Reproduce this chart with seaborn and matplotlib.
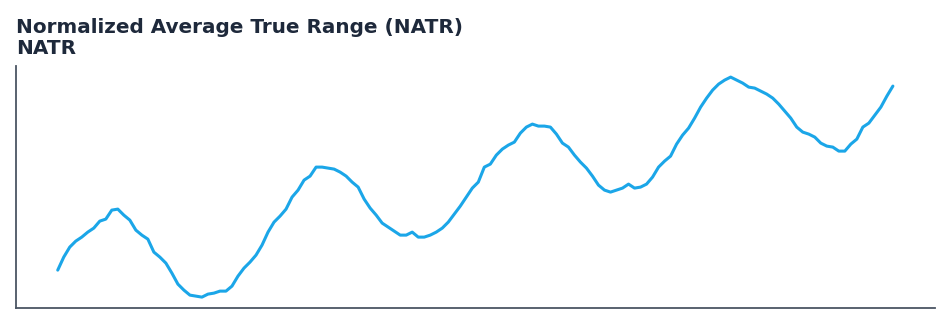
import numpy as np
import pandas as pd
import seaborn as sns
import matplotlib.pyplot as plt

# NATR values (arbitrary units, no axis labels shown)
natr_first = [
    0.80, 1.06, 1.26, 1.38, 1.46, 1.56, 1.64, 1.78, 1.82, 2.00, 2.02,
    1.90, 1.80, 1.60, 1.50, 1.42, 1.16, 1.06, 0.94, 0.74, 0.52,
    0.40, 0.30, 0.28, 0.26, 0.32, 0.34, 0.38, 0.38, 0.48, 0.68,
    0.84, 0.96, 1.10, 1.30, 1.56, 1.76, 1.88, 2.02, 2.26, 2.40,
    2.60, 2.68, 2.86, 2.86, 2.84, 2.82, 2.76, 2.68, 2.56, 2.46,
    2.22, 2.04, 1.90, 1.74, 1.66, 1.58, 1.50, 1.50, 1.56, 1.46,
    1.46, 1.50, 1.56, 1.64, 1.76, 1.92, 2.08, 2.26, 2.44,
]
natr_second = [
    2.56, 2.86, 2.92, 3.10, 3.22, 3.30, 3.36, 3.54, 3.66, 3.72,
    3.68, 3.68, 3.66, 3.52, 3.34, 3.26, 3.10, 2.96, 2.84, 2.68,
    2.50, 2.40, 2.36, 2.40, 2.44, 2.52, 2.44, 2.46, 2.52, 2.66,
    2.86, 2.98, 3.08, 3.32, 3.50, 3.64, 3.84, 4.06, 4.24, 4.40,
    4.52, 4.60, 4.66, 4.60, 4.54, 4.46, 4.44, 4.38, 4.32, 4.24,
    4.12, 3.98, 3.84, 3.66, 3.56, 3.52, 3.46, 3.34, 3.28, 3.26,
    3.18, 3.18, 3.32, 3.42, 3.66, 3.74, 3.90, 4.06, 4.28, 4.48,
]
natr = natr_first + natr_second
period = list(range(len(natr)))

df = pd.DataFrame({"period": period, "natr": natr})

sns.set_style("white")
plt.rcParams["font.family"] = ["DejaVu Sans"]

fig = plt.figure(figsize=(9.51, 3.24), dpi=100)
ax = fig.add_axes([0.0168, 0.049, 0.966, 0.747])

sns.lineplot(data=df, x="period", y="natr", ax=ax, color="#1ba6e8", linewidth=2.2)

ax.set_xticks([])
ax.set_yticks([])
ax.set_xlabel("")
ax.set_ylabel("")
for side in ["top", "right"]:
    ax.spines[side].set_visible(False)
for side in ["left", "bottom"]:
    ax.spines[side].set_color("#4b5563")
    ax.spines[side].set_linewidth(1.3)

ax.set_title("Normalized Average True Range (NATR)\nNATR", loc="left",
             fontsize=14.4, fontweight="bold", color="#1e293b", pad=9,
             linespacing=1.12)

fig.savefig("out.png", dpi=100)
